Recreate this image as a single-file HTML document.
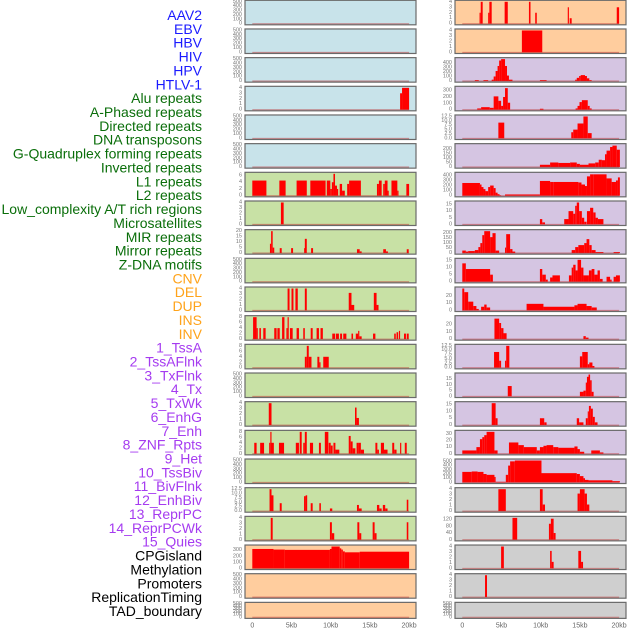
<!DOCTYPE html>
<html><head><meta charset="utf-8">
<style>
html,body{margin:0;padding:0;background:#fff;}
svg{display:block;font-family:"Liberation Sans",sans-serif;}
</style></head>
<body>
<svg id="chart" width="630" height="630" viewBox="0 0 630 630"></svg>
<script>
const featureLabels = ["AAV2","EBV","HBV","HIV","HPV","HTLV-1","Alu repeats","A-Phased repeats","Directed repeats","DNA transposons","G-Quadruplex forming repeats","Inverted repeats","L1 repeats","L2 repeats","Low_complexity A/T rich regions","Microsatellites","MIR repeats","Mirror repeats","Z-DNA motifs","CNV","DEL","DUP","INS","INV","1_TssA","2_TssAFlnk","3_TxFlnk","4_Tx","5_TxWk","6_EnhG","7_Enh","8_ZNF_Rpts","9_Het","10_TssBiv","11_BivFlnk","12_EnhBiv","13_ReprPC","14_ReprPCWk","15_Quies","CPGisland","Methylation","Promoters","ReplicationTiming","TAD_boundary"];
const labelGroups = [6,13,5,15,5];
const groupColors = ["#1a1aff","#0a6e0a","#ffa31a","#a53bf0","#000000"];
const xTickLabels = ["0","5kb","10kb","15kb","20kb"];
const xTickValues = [0,5,10,15,20];

const ticks500 = [0,100,200,300,400,500];
const ticks4 = [0,1,2,3,4];
const ticks12 = [0,2.5,5,7.5,10,12.5];

// segments: [startKb, endKb, value]
const r0R = [[2.2,2.35,2],[2.35,2.6,4],[3.3,3.45,2],[3.45,3.75,4],[5.4,5.8,4],[8.5,8.7,4],[9.3,9.5,2],[13.45,13.6,3],[13.7,13.95,1],[19.7,20,3]];
const r1R = [[7.6,10.2,4]];
const r2R = [[1.6,2.1,20],[2.7,3.3,20],[3.75,4.0,30],[4.0,4.25,100],[4.25,4.5,220],[4.5,4.7,330],[4.7,4.95,450],[4.95,5.45,480],[5.45,5.7,330],[5.7,5.95,120],[5.95,6.4,30],[9.9,10.75,20],[14.4,14.6,30],[14.6,14.9,70],[14.9,15.1,110],[15.1,15.65,130],[15.65,15.9,110],[15.9,16.2,60],[16.2,16.5,20]];
const r3L = [[18.85,19.1,3],[19.1,20,4]];
const r3R = [[1.9,2.4,20],[2.4,3.5,40],[3.5,4.0,30],[4.0,4.6,210],[4.6,4.95,140],[4.95,5.2,60],[5.2,5.45,200],[5.45,5.8,340],[5.8,6.1,110],[9.9,10.35,15],[14.45,14.7,20],[14.7,14.95,60],[14.95,15.25,120],[15.25,16.0,150],[16.0,16.25,60],[16.25,16.5,20]];
const r4R = [[4.6,5.35,9],[13.9,14.15,3.5],[14.15,14.7,5],[14.7,15.45,8.5],[15.45,16.0,12.5],[16.0,16.5,3]];
const r5R = [[9.9,11.2,25],[11.2,12.25,50],[12.25,13.75,45],[13.75,14.6,50],[14.6,15.0,35],[15.0,16.1,25],[16.1,16.95,40],[16.95,17.4,50],[17.4,17.8,80],[17.8,18.2,75],[18.2,18.4,140],[18.4,18.85,180],[18.85,19.15,220],[19.15,19.7,235],[19.7,20.1,190]];
const r6L = [[0,1.8,4.5],[3.45,4.25,4.5],[5.65,6.95,4.5],[7.4,9.35,4.5],[9.5,9.95,4.5],[9.95,10.15,2],[10.15,10.35,4],[10.35,10.55,6.5],[10.55,10.8,3],[10.8,10.95,2],[11.15,11.45,3.5],[11.45,11.8,1.5],[12.1,12.35,3.5],[12.35,13.85,4.5],[15.9,16.15,3.5],[16.15,16.5,4.5],[16.7,16.9,3.5],[16.9,17.25,4.5],[17.25,17.4,1.5],[17.75,18.5,4.5],[18.5,18.65,1.5],[19.65,20,3.5]];
const r6R = [[0,2.25,250],[2.25,2.45,220],[2.45,2.7,170],[2.7,2.95,130],[2.95,3.3,90],[3.3,3.55,170],[3.55,4.0,200],[4.0,4.25,150],[4.25,4.5,60],[4.5,4.75,30],[4.75,4.95,10],[5.45,9.9,25],[9.9,11.2,290],[11.2,11.6,270],[11.6,14.8,270],[14.8,15.2,260],[15.2,15.65,220],[15.65,15.9,190],[15.9,16.3,380],[16.3,16.7,420],[16.7,18.4,420],[18.4,19.05,340],[19.05,19.6,270],[19.6,19.85,300],[19.85,20.1,360]];
const r7L = [[3.65,4.0,4]];
const r7R = [[9.9,10.2,4],[10.2,10.55,1.5],[13.0,13.55,4],[13.55,14.15,10],[14.15,14.4,8],[14.4,14.6,14],[14.6,14.9,16.5],[14.9,15.25,10],[15.25,15.55,5],[15.55,15.85,2],[15.9,16.3,10],[16.3,16.7,12.5],[16.7,17.0,9],[17.0,17.3,5],[17.3,18.0,4]];
const r8L = [[2.25,2.4,8.5],[2.4,2.6,20],[2.6,2.8,5],[3.5,3.75,4.5],[4.95,5.2,4.5],[6.6,6.7,4.5],[6.7,6.95,13],[7.5,7.75,4.5],[13.35,13.7,3.5],[13.7,13.95,1.5],[16.7,17.05,3.5],[17.05,17.3,1.5],[19.7,19.95,3.5]];
const r8R = [[0,0.45,25],[0.45,0.75,15],[0.75,1.6,20],[1.6,2.05,30],[2.05,2.3,60],[2.3,2.55,100],[2.55,2.8,180],[2.8,3.55,220],[3.55,3.85,160],[3.85,4.25,200],[4.25,4.7,25],[5.45,5.6,55],[5.6,6.1,190],[6.1,6.4,40],[6.4,6.75,15],[13.95,14.4,30],[14.4,14.8,60],[14.8,15.55,80],[15.55,15.85,100],[15.85,16.2,140],[16.2,16.5,80],[16.5,17.0,30],[17.0,18.0,10],[19.3,20.1,10]];
const r9R = [[0,0.45,13],[0.45,3.55,9],[3.55,3.9,5],[9.9,10.2,9],[10.2,10.65,5],[10.65,10.9,1.5],[11.2,11.5,3],[11.5,12.45,4.5],[13.6,13.95,4.5],[13.95,14.15,10],[14.15,14.45,12],[14.45,14.7,8],[14.7,15.15,15.5],[15.15,15.45,10],[15.45,16.15,4.5],[16.15,16.5,8],[16.5,16.85,9],[16.85,17.25,5],[17.25,17.55,8],[17.55,17.9,2],[18.4,18.85,3.5],[18.85,19.05,1.5],[19.3,19.6,3.5],[19.6,20.1,4.5]];
const r10L = [[4.5,4.75,4],[5.0,5.25,4],[5.5,5.8,4],[6.7,6.95,4],[12.3,12.65,3.2],[12.65,13.0,1],[15.5,15.85,3.2],[15.85,16.1,1]];
const r10R = [[0,0.25,30],[0.25,0.75,25],[0.75,1.4,12],[1.4,1.8,6],[1.8,2.1,2],[2.4,2.8,5],[2.8,3.1,8],[3.1,3.55,4],[8.2,10.35,9],[10.35,14.3,5],[14.3,14.7,7],[14.7,15.85,9],[15.85,16.5,6],[16.5,17.15,4]];
const r11L = [[0.1,0.55,8],[0.55,0.7,4],[0.9,1.1,4],[1.4,1.7,4],[2.8,3.1,4],[3.2,3.5,4],[3.8,4.1,8],[4.35,4.5,4],[4.5,4.65,8],[4.8,5.15,4],[5.65,5.95,4],[6.5,6.7,4],[7.45,7.7,4],[8.2,8.5,4],[8.7,9.0,4],[10.2,10.55,2],[10.65,11.05,2],[11.2,11.45,2],[11.6,12.0,2],[12.65,12.85,2],[13.2,13.5,2],[13.5,13.65,3],[13.65,13.95,1],[15.4,15.7,2],[18.1,18.3,2],[18.4,18.6,2.5],[18.7,18.85,3],[19.35,19.6,2],[19.7,19.95,2]];
const r11R = [[4.1,4.7,28],[4.7,4.95,22],[4.95,5.25,15],[5.25,5.65,8],[15.45,15.75,4],[15.75,16.1,2]];
const r12L = [[6.7,6.95,4],[6.95,7.2,8],[7.2,7.55,4],[8.3,8.55,4],[8.55,8.7,2],[9.05,9.75,4]];
const r12R = [[4.05,4.7,9],[4.7,4.95,4],[5.45,5.6,4],[5.6,6.0,12.5],[15.0,15.3,6.5],[15.3,16.0,9],[16.0,16.2,2],[16.2,16.6,3],[16.6,16.85,1]];
const r13R = [[5.8,6.3,9],[15.0,15.45,4],[15.45,15.75,5],[15.75,15.9,12],[15.9,16.1,17],[16.1,16.3,19],[16.3,16.5,14],[16.5,16.75,4]];
const r14L = [[2.1,2.45,4],[13.1,13.3,3.2],[13.3,13.6,1.3]];
const r14R = [[3.75,4.25,16],[4.25,4.5,5],[9.9,10.45,5],[10.45,10.75,2],[14.6,14.9,5],[14.9,15.45,2],[15.75,16.0,5],[16.0,16.15,10],[16.15,16.4,14],[16.4,16.65,12],[16.65,16.9,6],[16.9,17.25,2]];
const r15L = [[0.25,0.55,4],[1.0,1.5,4],[2.15,2.3,4],[2.3,2.45,8],[2.45,2.75,4],[3.4,4.05,4],[5.55,5.95,4],[6.05,6.3,8],[6.5,6.7,4],[6.7,6.95,8],[7.35,7.75,4],[8.5,8.75,4],[9.25,9.7,8],[9.75,10.0,4],[10.0,10.25,3],[10.35,10.6,4],[10.6,11.1,1.5],[12.3,12.55,6.5],[12.55,12.8,4.5],[12.8,13.15,2],[13.3,13.5,4],[13.5,13.85,4],[13.85,14.25,1.5],[15.7,15.95,4],[15.95,16.15,1.5],[16.4,16.8,4],[16.8,17.25,1.5],[17.85,18.1,4],[18.1,18.4,1.5],[18.85,19.0,4],[19.45,19.7,4]];
const r15R = [[0,1.8,5],[1.8,2.25,10],[2.25,2.55,22],[2.55,2.8,25],[2.8,3.1,28],[3.1,4.1,33],[4.1,4.5,5],[5.95,7.15,17],[7.15,7.85,13],[7.85,9.5,10],[9.5,9.9,5],[9.9,10.35,10],[10.35,10.75,12],[10.75,11.6,13],[11.6,12.25,10],[12.25,14.3,9],[14.3,14.7,11],[14.7,15.0,7],[15.0,15.55,3],[16.45,17.55,5],[17.55,18.0,2]];
const r16R = [[0,1.2,250],[1.2,1.95,260],[1.95,2.7,250],[2.7,3.1,200],[3.1,4.1,180],[4.1,4.25,130],[4.25,5.55,15],[5.55,5.85,180],[5.85,6.1,400],[6.1,6.7,500],[6.7,10.1,520],[10.1,14.6,220],[14.6,15.0,200],[15.0,15.45,150],[15.45,15.65,100],[15.65,16.1,60],[16.1,19.15,50],[19.15,20.1,30]];
const r17L = [[2.2,2.45,12.5],[2.45,2.7,9],[3.5,3.75,4.5],[6.6,6.8,8.5],[6.8,7.0,9],[7.45,7.7,4.5],[8.55,8.75,4.5],[9.9,10.2,1.5],[13.35,13.6,3.5],[13.6,13.95,1.5],[15.9,16.2,3.5],[16.2,16.5,1.5],[16.65,16.95,3.5],[16.95,17.25,1.5],[19.7,19.9,6.5]];
const r17R = [[4.6,5.55,4],[9.9,10.25,4],[10.25,10.55,1.2],[14.7,15.0,3.2],[15.0,15.6,4],[15.6,15.9,3.2],[15.9,16.2,1.2]];
const r18L = [[2.35,2.6,4],[9.9,10.15,3.2],[10.15,10.45,1.2],[13.4,13.65,3.2],[13.65,13.9,1.2],[15.35,15.6,3.2],[15.6,15.85,1.2],[19.7,19.9,3.2]];
const r18R = [[6.4,7.0,130],[11.05,11.3,95],[11.3,11.65,125],[11.65,11.9,40]];
const r19L = [[0,2.7,320],[2.7,4.15,310],[4.15,9.9,305],[9.9,10.1,320],[10.1,11.15,360],[11.15,11.35,330],[11.35,11.55,310],[11.55,11.8,280],[11.8,13.7,265],[13.7,20,275]];
const r19R = [[4.95,5.3,4],[11.2,11.4,3.2],[11.4,11.65,1.2],[14.8,15.15,3.2],[15.15,15.4,1.2]];
const r20R = [[2.9,3.15,4]];

const C = {blue:"#c8e3ea",green:"#c8e1a5",orange:"#ffcd9e",purple:"#d5c5e2",gray:"#cfcfcf"};
// [row, col, bg, yMax, ticks, segments, tickDecimals]
const panels = [
 [0,0,C.blue,500,ticks500,[]],[0,1,C.orange,4,ticks4,r0R],
 [1,0,C.blue,500,ticks500,[]],[1,1,C.orange,4,ticks4,r1R],
 [2,0,C.blue,500,ticks500,[]],[2,1,C.purple,480,[0,100,200,300,400],r2R],
 [3,0,C.blue,4,ticks4,r3L],[3,1,C.purple,345,[0,100,200,300],r3R],
 [4,0,C.blue,500,ticks500,[]],[4,1,C.purple,12.5,ticks12,r4R,1],
 [5,0,C.blue,500,ticks500,[]],[5,1,C.purple,240,[0,50,100,150,200],r5R],
 [6,0,C.green,6.5,[0,2,4,6],r6L],[6,1,C.purple,430,[0,100,200,300,400],r6R],
 [7,0,C.green,4,ticks4,r7L],[7,1,C.purple,16.5,[0,5,10,15],r7R],
 [8,0,C.green,20,[0,5,10,15,20],r8L],[8,1,C.purple,220,[0,50,100,150,200],r8R],
 [9,0,C.green,500,ticks500,[]],[9,1,C.purple,15.5,[0,5,10,15],r9R],
 [10,0,C.green,4,ticks4,r10L],[10,1,C.purple,30,[0,10,20],r10R],
 [11,0,C.green,8,[0,2,4,6,8],r11L],[11,1,C.purple,30,[0,10,20],r11R],
 [12,0,C.green,8,[0,2,4,6,8],r12L],[12,1,C.purple,12.5,ticks12,r12R,1],
 [13,0,C.green,500,ticks500,[]],[13,1,C.purple,19,[0,5,10,15],r13R],
 [14,0,C.green,4,ticks4,r14L],[14,1,C.purple,16,[0,5,10,15],r14R],
 [15,0,C.green,8,[0,2,4,6,8],r15L],[15,1,C.purple,33,[0,10,20,30],r15R],
 [16,0,C.green,500,ticks500,[]],[16,1,C.purple,520,ticks500,r16R],
 [17,0,C.green,12.5,ticks12,r17L,1],[17,1,C.gray,4,ticks4,r17R],
 [18,0,C.green,4,ticks4,r18L],[18,1,C.gray,130,[0,40,80,120],r18R],
 [19,0,C.orange,360,[0,100,200,300],r19L],[19,1,C.gray,4,ticks4,r19R],
 [20,0,C.orange,500,ticks500,[]],[20,1,C.gray,4,ticks4,r20R],
 [21,0,C.orange,500,ticks500,[]],[21,1,C.gray,500,ticks500,[]]
];

const NS="http://www.w3.org/2000/svg";
const svg=document.getElementById('chart');
function mk(tag,attrs,parent){const e=document.createElementNS(NS,tag);for(const k in attrs)e.setAttribute(k,attrs[k]);(parent||svg).appendChild(e);return e;}
const colLeft=[245,455], colW=171, kb0=[252.3,462.3], pxPerKb=7.84;
function xScale(col,kb){return kb0[col]+kb*pxPerKb;}
function rowTop(r){return 0.3+r*28.67;}
function rowH(r){return r===21?16:24.5;}
function yScale(r,v,M){const T=rowTop(r),H=rowH(r);return T+H-1.1-(v/M)*(H-2.6);}

// labels
let gi=0,cnt=0;
featureLabels.forEach((lab,i)=>{
  while(cnt>=labelGroups[gi]){cnt=0;gi++;}
  cnt++;
  const t=mk('text',{x:202,y:15+i*13.86,'text-anchor':'end','dominant-baseline':'central','font-size':14,fill:groupColors[gi]});
  
  
  t.textContent=lab;
});

panels.forEach(p=>{
  const [r,c,bg,M,tks,segs,dec]=p;
  const g=mk('g',{});
  
  
  const T=rowTop(r),H=rowH(r),L=colLeft[c];
  mk('rect',{x:L,y:T,width:colW,height:H,fill:bg,stroke:'#6a6a6a','stroke-width':1.2},g);
  segs.forEach(s=>{
    const x1=xScale(c,s[0]),x2=xScale(c,s[1]),y=yScale(r,s[2],M),y0=yScale(r,0,M);
    const b=mk('rect',{x:x1,y:y,width:Math.max(x2-x1,0.8),height:Math.max(y0-y,0),fill:'#ff0000'},g);
    
    
  });
  mk('line',{x1:xScale(c,0),x2:xScale(c,20),y1:yScale(r,0,M),y2:yScale(r,0,M),stroke:'#b33','stroke-opacity':0.55,'stroke-width':1},g);
  tks.forEach(v=>{
    const t=mk('text',{x:L-3,y:yScale(r,v,M),'text-anchor':'end','dominant-baseline':'central','font-size':5.5,fill:'#777'},g);
    
    
    t.textContent=dec?v.toFixed(1):String(v);
  });
});

[0,1].forEach(c=>{
  xTickValues.forEach((v,i)=>{
    const t=mk('text',{x:xScale(c,v),y:626,'text-anchor':'middle','dominant-baseline':'central','font-size':7,fill:'#666'});
    
    
    t.textContent=xTickLabels[i];
  });
});
</script>
</body></html>
